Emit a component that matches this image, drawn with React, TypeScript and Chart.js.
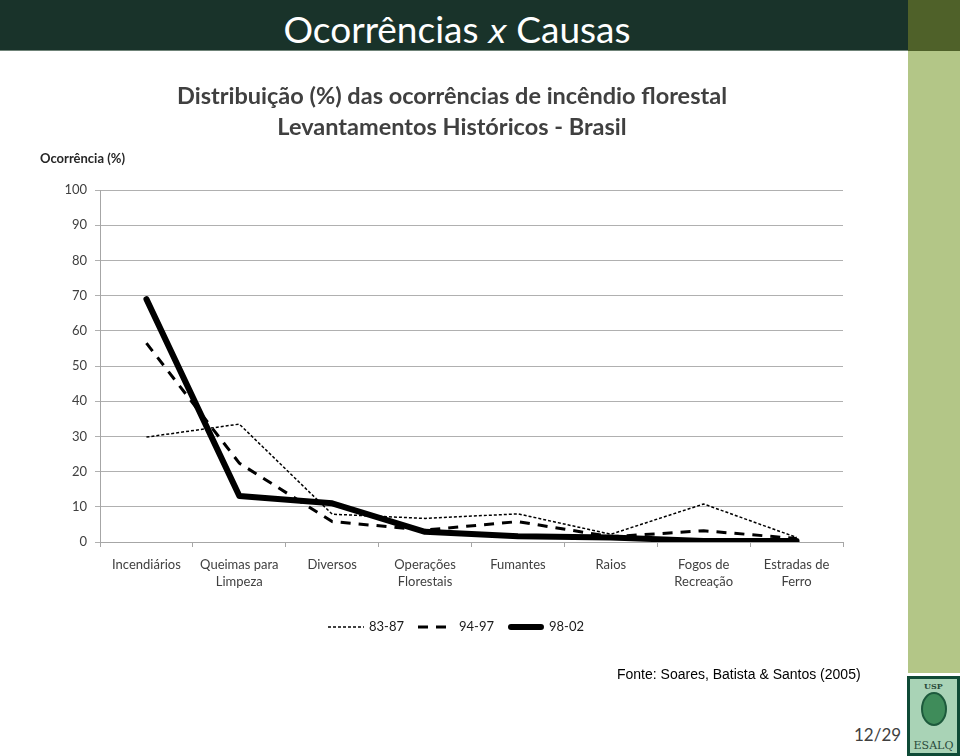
import React, { useEffect, useRef } from "react";
import { Chart, registerables } from "chart.js";

Chart.register(...registerables);

const categories: (string | string[])[] = [
  "Incendiários",
  ["Queimas para", "Limpeza"],
  "Diversos",
  ["Operações", "Florestais"],
  "Fumantes",
  "Raios",
  ["Fogos de", "Recreação"],
  ["Estradas de", "Ferro"],
];
const series8387 = [29.8, 33.5, 7.9, 6.7, 8.0, 2.2, 10.8, 1.3];
const series9497 = [56.5, 22.4, 5.8, 3.4, 5.8, 1.5, 3.2, 1.0];
const series9802 = [69.0, 13.1, 11.0, 2.9, 1.6, 1.3, 0.3, 0.3];
const seriesLabels = ["83-87", "94-97", "98-02"];
const chartTitle = [
  "Distribuição (%) das ocorrências de incêndio florestal",
  "Levantamentos Históricos - Brasil",
];
const yAxisTitle = "Ocorrência (%)";

const FONT = "Lato, 'Open Sans', sans-serif";

export default function App() {
  const ref = useRef<HTMLCanvasElement | null>(null);

  useEffect(() => {
    document.body.style.margin = "0";
    if (!ref.current) return;
    const yTitlePlugin = {
      id: "yTitle",
      afterDraw(chart: any) {
        const ctx = chart.ctx;
        ctx.save();
        ctx.font = `bold 13px ${FONT}`;
        ctx.fillStyle = "#262626";
        ctx.textAlign = "center";
        ctx.textBaseline = "middle";
        ctx.fillText(yAxisTitle, 82.5, 99);
        ctx.restore();
      },
    };
    const lineLegendPlugin = {
      id: "lineLegend",
      afterDraw(chart: any) {
        const ctx = chart.ctx;
        const ds = chart.data.datasets;
        const lineW = 36;
        const gap = 5;
        const spacing = 14;
        const cy = 567;
        ctx.save();
        ctx.font = `13px ${FONT}`;
        const widths = ds.map((d: any) => ctx.measureText(d.label).width);
        const total =
          widths.reduce((a: number, b: number) => a + b, 0) +
          ds.length * (lineW + gap) +
          (ds.length - 1) * spacing;
        let x = (chart.width - total) / 2 + 2;
        ds.forEach((d: any, i: number) => {
          ctx.save();
          ctx.strokeStyle = d.borderColor;
          ctx.lineWidth = d.borderWidth;
          ctx.lineCap = d.borderCapStyle || "butt";
          ctx.setLineDash(d.borderDash || []);
          const inset = d.borderCapStyle === "round" ? d.borderWidth / 2 : 0;
          ctx.beginPath();
          ctx.moveTo(x + inset, cy);
          ctx.lineTo(x + lineW - inset, cy);
          ctx.stroke();
          ctx.restore();
          ctx.fillStyle = "#1a1a1a";
          ctx.textBaseline = "middle";
          ctx.textAlign = "left";
          ctx.fillText(d.label, x + lineW + gap, cy);
          x += lineW + gap + widths[i] + spacing;
        });
        ctx.restore();
      },
    };
    const chart = new Chart(ref.current, {
      type: "line",
      data: {
        labels: categories,
        datasets: [
          {
            label: seriesLabels[0],
            data: series8387,
            borderColor: "#000",
            borderWidth: 1.5,
            borderDash: [3, 2],
            pointRadius: 0,
            tension: 0,
            fill: false,
            order: 3,
          },
          {
            label: seriesLabels[1],
            data: series9497,
            borderColor: "#000",
            borderWidth: 3,
            borderDash: [10, 8],
            pointRadius: 0,
            tension: 0,
            fill: false,
            order: 2,
          },
          {
            label: seriesLabels[2],
            data: series9802,
            borderColor: "#000",
            borderWidth: 6,
            borderCapStyle: "round",
            borderJoinStyle: "round",
            pointRadius: 0,
            tension: 0,
            fill: false,
            order: 1,
          },
        ],
      },
      options: {
        responsive: false,
        animation: false,
        layout: { padding: { left: 0, right: 4, top: 0, bottom: 64.5 } },
        plugins: {
          tooltip: { enabled: false },
          legend: { display: false },
          title: {
            display: true,
            text: chartTitle,
            color: "#404040",
            font: { family: FONT, size: 23.5, weight: "bold", lineHeight: 1.32 },
            padding: { top: 20.5, bottom: 47.5 },
          },
        },
        scales: {
          x: {
            type: "category",
            offset: true,
            afterFit: (s: any) => {
              s.height = 63.5;
            },
            grid: {
              offset: true,
              drawOnChartArea: false,
              drawTicks: true,
              tickLength: 5,
              color: "#a6a6a6",
            },
            border: { display: true, color: "#a6a6a6" },
            ticks: {
              color: "#404040",
              padding: 9.5,
              maxRotation: 0,
              autoSkip: false,
              font: { family: FONT, size: 13, lineHeight: 1.31 },
            },
          },
          y: {
            min: 0,
            max: 100,
            afterFit: (s: any) => {
              s.width = 100;
            },
            ticks: {
              stepSize: 10,
              color: "#404040",
              padding: 8,
              font: { family: FONT, size: 13 },
            },
            grid: { color: "#b0b0b0", tickLength: 5 },
            border: { display: true, color: "#a6a6a6" },
          },
          yRight: {
            type: "linear",
            position: "right",
            display: true,
            afterFit: (s: any) => {
              s.width = 61;
            },
            grid: { display: false, drawTicks: false },
            border: { display: false },
            ticks: { display: false },
          },
        },
      },
      plugins: [yTitlePlugin, lineLegendPlugin],
    } as any);
    return () => chart.destroy();
  }, []);

  return (
    <div
      style={{
        position: "fixed",
        left: 0,
        top: 0,
        width: 960,
        height: 756,
        background: "#fff",
        overflow: "hidden",
        fontFamily: FONT,
      }}
    >
      <div
        style={{
          position: "absolute",
          left: 0,
          top: 0,
          width: 908,
          height: 51,
          background: "#19332a",
          borderBottom: "1px solid #6f8378",
          color: "#fff",
          fontSize: 37,
          lineHeight: "58px",
          textAlign: "center",
          paddingLeft: 6,
          boxSizing: "border-box",
          whiteSpace: "nowrap",
        }}
      >
        Ocorrências <span style={{ fontStyle: "italic", fontFamily: "'DejaVu Sans', sans-serif", fontSize: 32 }}>x</span> Causas
      </div>
      <div style={{ position: "absolute", left: 908, top: 0, width: 52, height: 51, background: "#4f6129" }} />
      <div style={{ position: "absolute", left: 908, top: 51, width: 52, height: 622, background: "#b3c687" }} />
      <canvas ref={ref} width={908} height={610} style={{ position: "absolute", left: 0, top: 60 }} />
      <div
        style={{
          position: "absolute",
          left: 617,
          top: 666,
          fontFamily: "'Liberation Sans', Arial, sans-serif",
          fontSize: 14,
          color: "#000",
          whiteSpace: "nowrap",
        }}
      >
        Fonte: Soares, Batista &amp; Santos (2005)
      </div>
      <div
        style={{
          position: "absolute",
          left: 854,
          top: 724,
          fontSize: 17,
          color: "#404040",
        }}
      >
        12/29
      </div>
      <div
        style={{
          position: "absolute",
          left: 907,
          top: 676,
          width: 53,
          height: 80,
          background: "#0f4a36",
          boxSizing: "border-box",
          padding: 3,
        }}
      >
        <div
          style={{
            width: "100%",
            height: "100%",
            background: "#a9d3b6",
            position: "relative",
            fontFamily: "'DejaVu Serif', serif",
            color: "#2a4a3a",
            textAlign: "center",
          }}
        >
          <div style={{ fontSize: 8, lineHeight: "10px", paddingTop: 2, fontWeight: "bold" }}>USP</div>
          <div
            style={{
              margin: "1px auto 0",
              width: 26,
              height: 34,
              borderRadius: "50%",
              background: "#3f8c5a",
              border: "2px solid #1d5a3c",
              boxSizing: "border-box",
            }}
          />
          <div style={{ fontSize: 11, lineHeight: "14px", position: "absolute", bottom: 0, width: "100%" }}>ESALQ</div>
        </div>
      </div>
    </div>
  );
}
